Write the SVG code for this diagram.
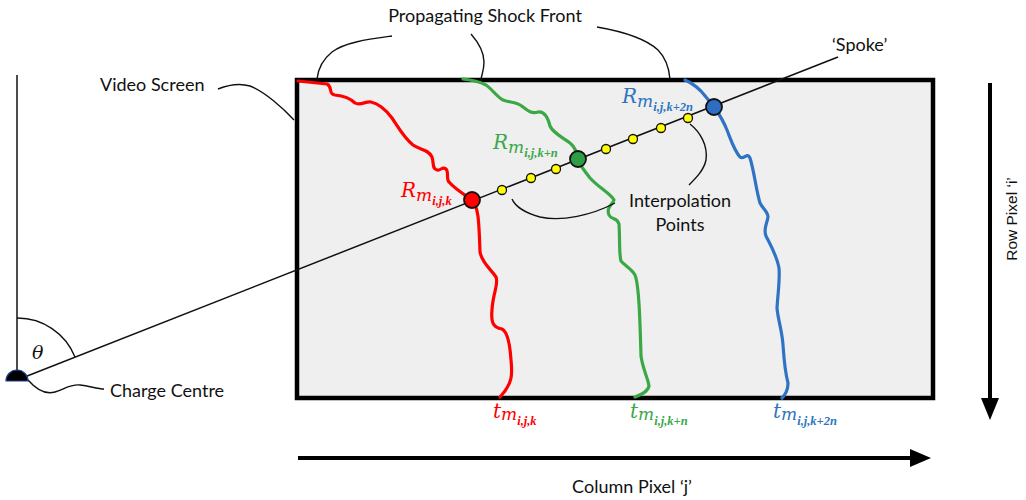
<svg xmlns="http://www.w3.org/2000/svg" width="1026" height="500" viewBox="0 0 1026 500">
  <style>
    .lbl { font-family: Lato, "Open Sans", sans-serif; font-size: 18px; fill: #111; }
    .axis { font-family: "Liberation Sans", Arial, sans-serif; font-size: 15.5px; fill: #111; }
    .math { font-family: "DejaVu Serif", "Liberation Serif", serif; font-style: italic; }
    .ss { font-family: "Liberation Serif", "DejaVu Serif", serif; font-style: italic; font-weight: bold; font-size: 12.5px; }
    .lead { fill: none; stroke: #111; stroke-width: 1.4; }
    .front { fill: none; stroke-width: 3.2; stroke-linecap: round; stroke-linejoin: round; }
    .ip { fill: #ffff00; stroke: #111; stroke-width: 1.3; }
    .hit { stroke: #111; stroke-width: 1.8; }
  </style>

  <rect width="1026" height="500" fill="#ffffff"/>

  <!-- video screen -->
  <g id="screen">
    <rect x="297" y="80" width="636" height="318" fill="#efefef" stroke="#000" stroke-width="4.5"/>
  </g>

  <!-- shock fronts -->
  <g id="front-k">
    <path class="front" stroke="#ff0000" d="M298,81 L327,84 C333,87 328,94 335,95 C345,96 350,98 355,103 C360,106 366,101 371,102 C380,104 386,110 392,118 C398,127 404,138 413,145 C420,150 428,149 432,157 C434,163 432,169 437,170 C441,171 442,166 446,169 C449,172 446,179 449,182 C455,189 465,195 472,200 C479,207 479,225 480,252 C482,263 490,268 496,277 C499,284 493,292 492,310 C491,320 492,328 502,329 C508,332 510,345 511,360 C512,372 514,382 500,397"/>
  </g>
  <g id="front-kn">
    <path class="front" stroke="#39a845" d="M463,79 C472,80 480,82 486,85 C492,89 496,96 503,100 C510,103 516,101 523,107 C528,111 532,114 538,112 C545,111 548,118 550,126 C553,133 562,137 570,143 C575,147 577,153 578,159 C580,166 584,170 590,178 C598,187 611,194 614,200 C612,205 606,208 609,215 C611,220 617,217 619,224 C620,240 619,255 621,261 C625,266 631,268 635,275 C639,285 640,320 641,356 C643,370 648,378 649,386 C648,392 640,395 635,397"/>
  </g>
  <g id="front-k2n">
    <path class="front" stroke="#2e73c4" d="M685,80 C692,83 700,89 706,97 C710,102 713,105 715,108 C719,114 723,120 727,130 C731,140 734,150 740,157 C744,160 747,152 750,158 C754,170 756,190 760,203 C763,209 768,212 768,217 C767,224 763,229 766,236 C770,244 777,256 779,268 C780,280 778,292 777,308 C778,320 782,330 783,345 C784,360 785,372 788,383 C788,390 785,395 782,398"/>
  </g>

  <!-- connectors and leaders -->
  <g id="connectors">
    <!-- reference vertical and spoke -->
    <line x1="17" y1="75" x2="17" y2="380" stroke="#111" stroke-width="1.5"/>
    <line x1="17" y1="380" x2="838" y2="57" stroke="#111" stroke-width="1.5"/>
    <!-- angle arc -->
    <path class="lead" d="M17,318 A62,62 0 0 1 75,357"/>
    <!-- label leaders -->
    <path class="lead" d="M218,89 C228,85 240,83 250,86 C265,92 283,108 294,120"/>
    <path class="lead" d="M28,380 C35,388 45,395 55,392 C65,389 70,384 80,385 C90,386 97,389 104,389"/>
    <path class="lead" d="M392,36 C370,39 345,42 332,52 C322,60 318,70 317,79"/>
    <path class="lead" d="M471,34 C478,42 484,52 484,62 C484,70 482,74 481,79"/>
    <path class="lead" d="M597,27 C620,31 645,38 658,50 C666,58 669,68 670,79"/>
    <path class="lead" d="M615,203 C592,215 562,222 540,217 C525,213 515,206 512,199"/>
    <path class="lead" d="M690,124 C700,132 708,145 706,160 C704,170 696,178 689,185"/>
  </g>

  <!-- interpolation points -->
  <g id="interpolation">
    <circle class="ip" cx="502" cy="190" r="4.5"/>
    <circle class="ip" cx="531" cy="178" r="4.5"/>
    <circle class="ip" cx="556" cy="169" r="4.5"/>
    <circle class="ip" cx="606" cy="149" r="4.5"/>
    <circle class="ip" cx="633" cy="139" r="4.5"/>
    <circle class="ip" cx="661" cy="128" r="4.5"/>
    <circle class="ip" cx="688" cy="118" r="4.5"/>
  </g>

  <!-- spoke / front intersections -->
  <g id="hit-k"><circle class="hit" cx="472" cy="200" r="8" fill="#ff0000"/></g>
  <g id="hit-kn"><circle class="hit" cx="578" cy="159" r="8" fill="#2e9e44"/></g>
  <g id="hit-k2n"><circle class="hit" cx="714" cy="107" r="8" fill="#2e6dc4"/></g>

  <!-- charge centre -->
  <g id="charge-centre">
    <path d="M6,381 A11,11 0 0 1 28,381 Z" fill="#000" stroke="#1f3f8a" stroke-width="1.2"/>
  </g>

  <!-- labels -->
  <g id="labels">
    <text class="lbl" x="485" y="22" text-anchor="middle">Propagating Shock Front</text>
    <text class="lbl" x="100" y="91">Video Screen</text>
    <text class="lbl" x="110" y="397">Charge Centre</text>
    <text class="lbl" x="832" y="51">‘Spoke’</text>
    <text class="lbl" x="680" y="207" text-anchor="middle">Interpolation</text>
    <text class="lbl" x="680" y="231" text-anchor="middle">Points</text>
    <text class="math" x="32" y="359" font-size="19" fill="#111">θ</text>

    <!-- R labels -->
    <text class="math" x="401" y="197" fill="#ff0000" font-size="20">R<tspan dy="4" font-size="17">m</tspan><tspan class="ss" dy="4">i,j,k</tspan></text>
    <text class="math" x="493" y="149" fill="#3aa84a" font-size="20">R<tspan dy="4" font-size="17">m</tspan><tspan class="ss" dy="4">i,j,k+n</tspan></text>
    <text class="math" x="622" y="103" fill="#2e75c0" font-size="20">R<tspan dy="4" font-size="17">m</tspan><tspan class="ss" dy="4">i,j,k+2n</tspan></text>

    <!-- t labels -->
    <text class="math" x="493" y="418" fill="#ff0000" font-size="20">t<tspan dy="2" font-size="17">m</tspan><tspan class="ss" dy="5">i,j,k</tspan></text>
    <text class="math" x="630" y="418" fill="#3aa84a" font-size="20">t<tspan dy="2" font-size="17">m</tspan><tspan class="ss" dy="5">i,j,k+n</tspan></text>
    <text class="math" x="773" y="418" fill="#2e75c0" font-size="20">t<tspan dy="2" font-size="17">m</tspan><tspan class="ss" dy="5">i,j,k+2n</tspan></text>
  </g>

  <!-- pixel axes -->
  <g id="row-axis">
    <line x1="990" y1="83" x2="990" y2="400" stroke="#000" stroke-width="4"/>
    <polygon points="981,398 999,398 990,420" fill="#000"/>
    <text class="axis" transform="translate(1017,219) rotate(-90)" text-anchor="middle">Row Pixel ‘i’</text>
  </g>
  <g id="column-axis">
    <line x1="298" y1="458" x2="912" y2="458" stroke="#000" stroke-width="4"/>
    <polygon points="910,449 910,467 931,458" fill="#000"/>
    <text class="lbl" x="632" y="493" text-anchor="middle">Column Pixel ‘j’</text>
  </g>
</svg>
